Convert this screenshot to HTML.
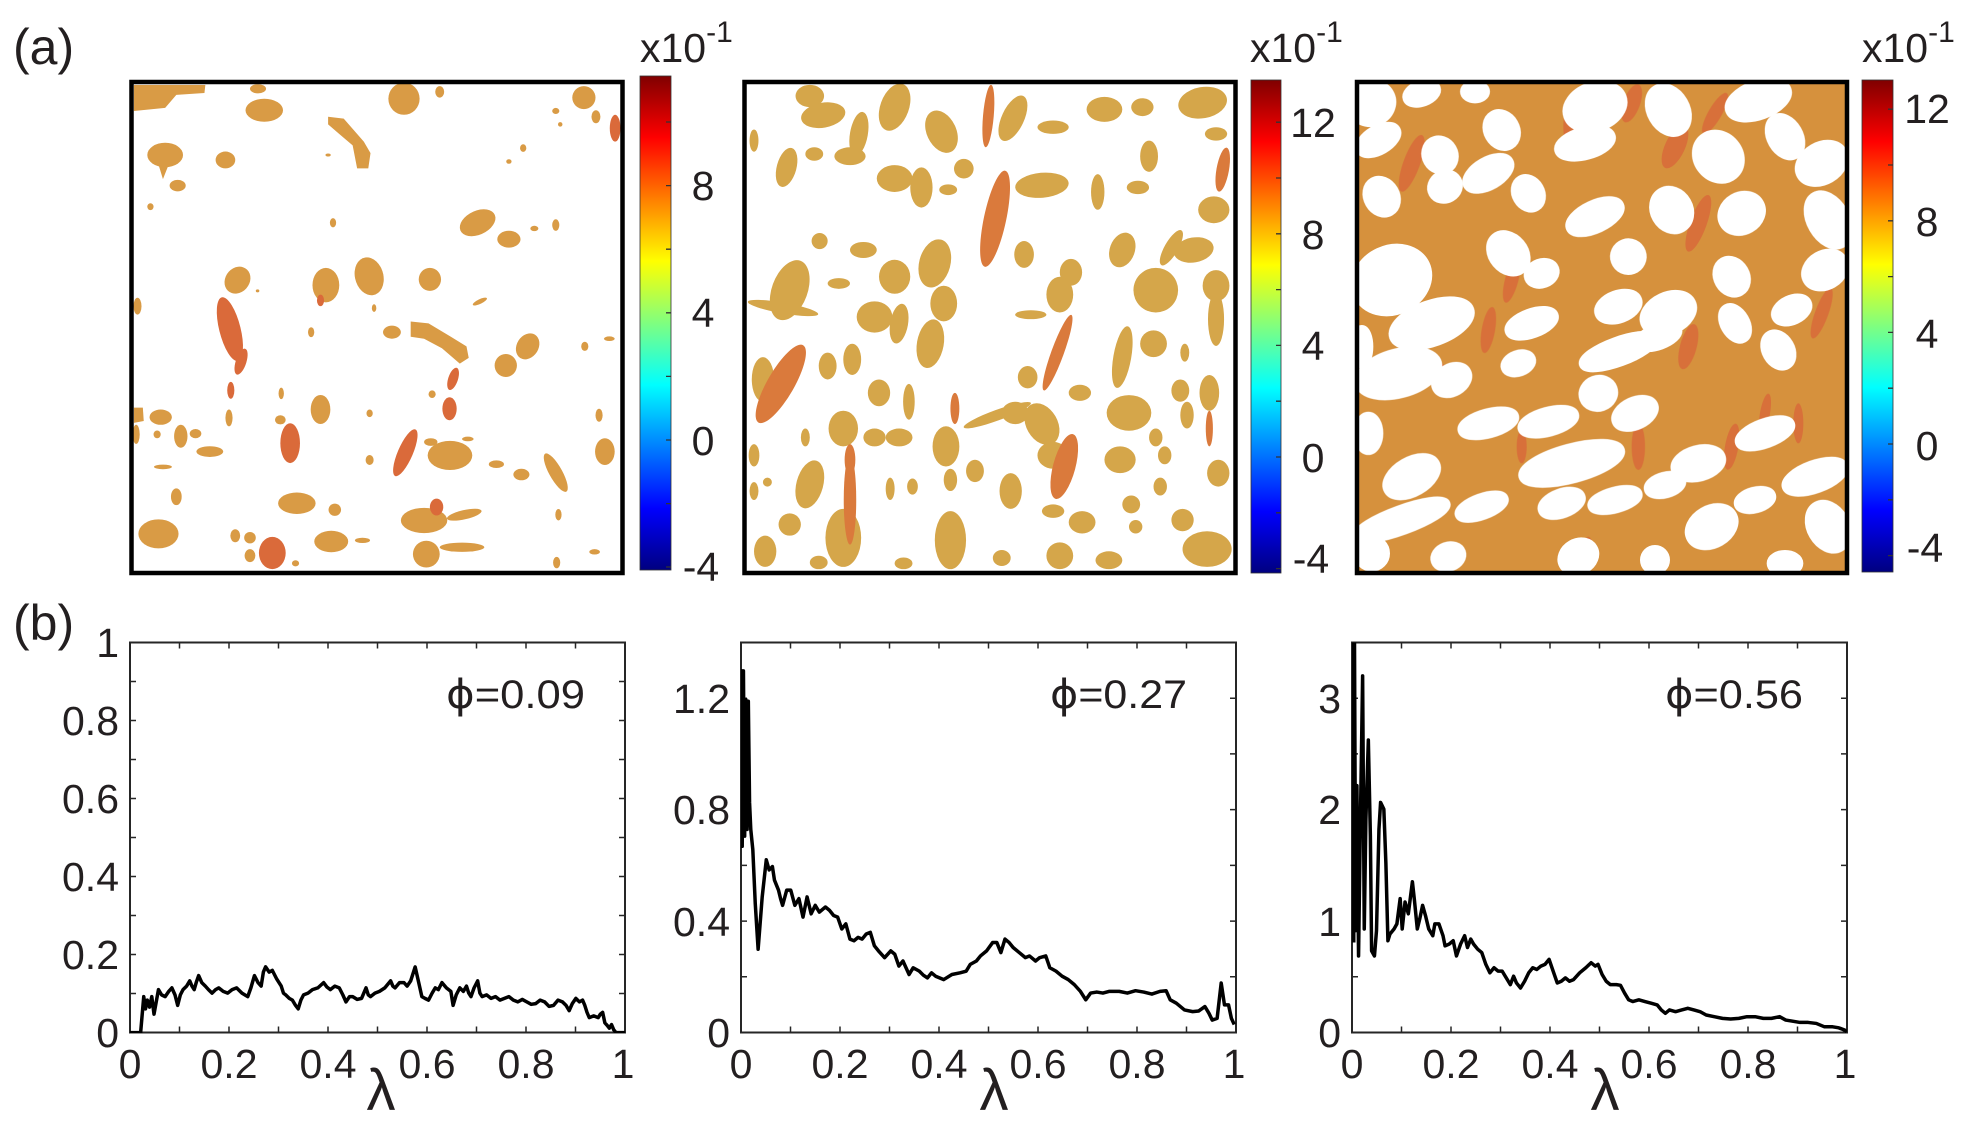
<!DOCTYPE html>
<html><head><meta charset="utf-8"><style>
html,body{margin:0;padding:0;background:#fff}
svg{display:block}
text{font-family:"Liberation Sans","DejaVu Sans",sans-serif;fill:#231f20}
</style></head><body>
<svg id="fig" width="1977" height="1129" viewBox="0 0 1977 1129" xmlns="http://www.w3.org/2000/svg">
<defs>
<linearGradient id="jet" x1="0" y1="0" x2="0" y2="1">
<stop offset="0" stop-color="#800000"/><stop offset="0.125" stop-color="#ff0000"/><stop offset="0.375" stop-color="#ffff00"/><stop offset="0.625" stop-color="#00ffff"/><stop offset="0.875" stop-color="#0000ff"/><stop offset="1" stop-color="#000080"/>
</linearGradient>
<clipPath id="c1"><rect x="131.5" y="82" width="491" height="491"/></clipPath>
<clipPath id="c2"><rect x="744.5" y="82" width="491" height="491"/></clipPath>
<clipPath id="c3"><rect x="1357" y="82" width="490" height="491"/></clipPath>
<clipPath id="pc1"><rect x="130" y="630" width="495" height="403"/></clipPath>
<clipPath id="pc2"><rect x="741" y="630" width="495" height="403"/></clipPath>
<clipPath id="pc3"><rect x="1352" y="642.5" width="495" height="391"/></clipPath>
</defs>
<rect width="1977" height="1129" fill="#fff"/>
<text x="13" y="64" font-size="50">(a)</text>
<text x="13" y="640" font-size="50">(b)</text>

<g clip-path="url(#c1)"><g transform="scale(0.4464 0.3827)">
<g id="p1o" fill="#d99b45">
<polygon points="300,222 460,222 458,243 395,248 370,282 300,290"/>
<polygon points="735,305 770,310 815,370 830,400 825,440 800,440 790,380 760,350 735,325"/>
<polygon points="355,430 378,430 365,468"/>
<polygon points="920,840 960,845 1010,880 1045,905 1050,935 1030,950 990,910 950,885 920,880"/>
<polygon points="300,1065 320,1065 322,1100 300,1105"/>
</g>
<g id="p1r" fill="#da6a3a"></g>
</g></g>

<g clip-path="url(#c2)"><g transform="translate(600 0) scale(0.4464)">
<g id="p2o" fill="#d5a64a"></g>
<g id="p2r" fill="#da7a3c"></g>
</g></g>

<g clip-path="url(#c3)">
<rect x="1357" y="82" width="490" height="491" fill="#d6913d"/>
<g transform="translate(1355 80) scale(0.33333)">
<g id="p3r" fill="#d9623a" opacity="0.7"></g>
<g id="p3w" fill="#fff" stroke="#fff" stroke-width="30"></g>
</g>
</g>

<g fill="none" stroke="#000" stroke-width="4.5">
<rect x="131.5" y="82" width="491" height="491"/>
<rect x="744.5" y="82" width="491" height="491"/>
<rect x="1357" y="82" width="490" height="491"/>
</g>

<rect x="640" y="76" width="31" height="494" fill="url(#jet)" stroke="#333" stroke-width="0.8"/>
<rect x="1251" y="80" width="30" height="493" fill="url(#jet)" stroke="#333" stroke-width="0.8"/>
<rect x="1862" y="80" width="31" height="492" fill="url(#jet)" stroke="#333" stroke-width="0.8"/>
<g stroke="#333" stroke-width="1.3">
<path d="M666,567h5M666,503.6h5M666,440h5M666,376.4h5M666,312.8h5M666,249.2h5M666,185.6h5M666,122h5"/>
<path d="M1276,568.6h5M1276,512.8h5M1276,457h5M1276,401.2h5M1276,345.4h5M1276,289.6h5M1276,233.8h5M1276,178h5M1276,122.2h5"/>
<path d="M1888,555.6h5M1888,499.8h5M1888,444h5M1888,388.2h5M1888,332.4h5M1888,276.6h5M1888,220.8h5M1888,165h5M1888,109.2h5"/>
</g>
<g font-size="41" text-anchor="middle">
<text x="703" y="200">8</text><text x="703" y="327">4</text><text x="703" y="455">0</text><text x="701" y="581">-4</text>
<text x="1313" y="137">12</text><text x="1313" y="249">8</text><text x="1313" y="360">4</text><text x="1313" y="472">0</text><text x="1311" y="573">-4</text>
<text x="1927" y="123">12</text><text x="1927" y="236">8</text><text x="1927" y="348">4</text><text x="1927" y="460">0</text><text x="1925" y="562">-4</text>
</g>
<g font-size="41">
<text x="640" y="62">x10<tspan font-size="30" dy="-20">-1</tspan></text>
<text x="1250" y="62">x10<tspan font-size="30" dy="-20">-1</tspan></text>
<text x="1862" y="62">x10<tspan font-size="30" dy="-20">-1</tspan></text>
</g>

<g fill="none" stroke="#262626" stroke-width="2">
<rect x="130" y="642.5" width="495" height="390"/>
<rect x="741" y="642.5" width="495" height="390"/>
<rect x="1352" y="642.5" width="495" height="390"/>
</g>
<g stroke="#262626" stroke-width="1.5">
<path id="xt1" d="M179.5,1032.5v-6M229,1032.5v-6M278.5,1032.5v-6M328,1032.5v-6M377.5,1032.5v-6M427,1032.5v-6M476.5,1032.5v-6M526,1032.5v-6M575.5,1032.5v-6M179.5,642.5v6M229,642.5v6M278.5,642.5v6M328,642.5v6M377.5,642.5v6M427,642.5v6M476.5,642.5v6M526,642.5v6M575.5,642.5v6"/>
<use href="#xt1" transform="translate(611 0)"/>
<use href="#xt1" transform="translate(1222 0)"/>
<path d="M130,993.5h6M130,954.5h6M130,915.5h6M130,876.5h6M130,837.5h6M130,798.5h6M130,759.5h6M130,720.5h6M130,681.5h6M625,993.5h-6M625,954.5h-6M625,915.5h-6M625,876.5h-6M625,837.5h-6M625,798.5h-6M625,759.5h-6M625,720.5h-6M625,681.5h-6"/>
<path id="yt2" d="M741,976.8h6M741,921.1h6M741,865.4h6M741,809.6h6M741,753.9h6M741,698.2h6M1236,976.8h-6M1236,921.1h-6M1236,865.4h-6M1236,809.6h-6M1236,753.9h-6M1236,698.2h-6"/>
<use href="#yt2" transform="translate(611 0)"/>
</g>

<g font-size="41" text-anchor="end">
<text x="119" y="657">1</text><text x="119" y="735">0.8</text><text x="119" y="813">0.6</text><text x="119" y="891">0.4</text><text x="119" y="969">0.2</text><text x="119" y="1047">0</text>
<text x="730" y="713">1.2</text><text x="730" y="824">0.8</text><text x="730" y="936">0.4</text><text x="730" y="1047">0</text>
<text x="1341" y="713">3</text><text x="1341" y="824">2</text><text x="1341" y="936">1</text><text x="1341" y="1047">0</text>
</g>
<g font-size="41" text-anchor="middle">
<text x="130" y="1078">0</text><text x="229" y="1078">0.2</text><text x="328" y="1078">0.4</text><text x="427" y="1078">0.6</text><text x="526" y="1078">0.8</text><text x="623" y="1078">1</text>
<text x="741" y="1078">0</text><text x="840" y="1078">0.2</text><text x="939" y="1078">0.4</text><text x="1038" y="1078">0.6</text><text x="1137" y="1078">0.8</text><text x="1234" y="1078">1</text>
<text x="1352" y="1078">0</text><text x="1451" y="1078">0.2</text><text x="1550" y="1078">0.4</text><text x="1649" y="1078">0.6</text><text x="1748" y="1078">0.8</text><text x="1845" y="1078">1</text>
</g>
<g font-size="58" text-anchor="middle">
<text x="381" y="1110">λ</text><text x="994" y="1110">λ</text><text x="1605" y="1110">λ</text>
</g>
<g font-size="40">
<text x="446" y="708" textLength="139" lengthAdjust="spacingAndGlyphs"><tspan font-family="DejaVu Sans">ϕ</tspan>=0.09</text>
<text x="1050" y="708" textLength="137" lengthAdjust="spacingAndGlyphs"><tspan font-family="DejaVu Sans">ϕ</tspan>=0.27</text>
<text x="1665" y="708" textLength="138" lengthAdjust="spacingAndGlyphs"><tspan font-family="DejaVu Sans">ϕ</tspan>=0.56</text>
</g>

<g fill="none" stroke="#000" stroke-width="3.5" stroke-linejoin="round">
<g clip-path="url(#pc1)">
<polyline vector-effect="non-scaling-stroke" transform="translate(0 580) scale(0.4464 0.3501)" points="290,1293 315,1293 322,1190 326,1225 330,1200 335,1220 340,1190 345,1240 350,1205 355,1170 362,1185 370,1190 378,1175 385,1165 392,1185 398,1215 404,1185 410,1170 418,1160 425,1145 430,1160 435,1170 440,1148 445,1130 452,1150 460,1160 467,1170 475,1180 483,1170 490,1165 500,1175 510,1180 520,1170 530,1165 542,1180 555,1190 562,1165 570,1130 578,1150 585,1160 590,1120 595,1105 603,1120 610,1115 620,1140 630,1160 635,1180 640,1185 648,1195 655,1200 662,1215 668,1225 674,1200 680,1185 690,1180 700,1170 712,1165 725,1150 732,1162 740,1170 750,1160 760,1165 768,1185 775,1205 783,1190 790,1190 800,1198 810,1195 815,1180 820,1165 825,1185 830,1190 840,1180 850,1175 862,1165 875,1145 880,1160 885,1165 895,1150 905,1150 912,1160 920,1145 925,1125 930,1105 938,1150 945,1190 952,1195 960,1200 968,1180 975,1165 982,1170 990,1150 1000,1165 1010,1175 1015,1215 1022,1185 1030,1165 1038,1175 1045,1160 1050,1180 1055,1190 1062,1165 1070,1145 1075,1180 1080,1190 1090,1185 1100,1195 1110,1190 1120,1200 1130,1195 1140,1190 1150,1200 1160,1205 1170,1198 1180,1205 1190,1212 1200,1210 1210,1200 1220,1205 1230,1218 1240,1215 1250,1200 1260,1205 1268,1215 1275,1230 1282,1210 1290,1195 1298,1205 1305,1200 1310,1215 1315,1235 1320,1250 1330,1245 1340,1250 1345,1240 1350,1235 1355,1265 1360,1272 1365,1280 1370,1270 1375,1285 1380,1293 1400,1293"/>
</g>
<g clip-path="url(#pc2)">
<polyline vector-effect="non-scaling-stroke" transform="translate(650 600) scale(0.408 0.3374)" points="223,205 226,730 229,210 232,700 235,295 238,680 241,300 244,600 247,680 252,740 258,900 265,1035 275,880 285,770 292,800 300,790 305,830 315,860 320,885 325,905 335,860 345,860 355,905 365,885 375,940 385,880 395,930 405,905 415,925 430,910 440,920 450,935 460,940 470,975 480,960 490,1005 500,1010 510,1000 520,1005 530,990 540,985 550,1025 560,1040 575,1060 590,1040 600,1050 610,1085 620,1070 635,1110 645,1090 660,1100 670,1112 680,1120 690,1105 700,1115 720,1125 740,1110 760,1105 775,1100 785,1080 800,1070 810,1055 825,1040 840,1015 850,1015 860,1045 870,1005 880,1015 890,1030 905,1045 920,1060 930,1055 945,1070 955,1060 970,1055 980,1090 995,1100 1010,1115 1025,1125 1040,1140 1055,1160 1068,1185 1080,1165 1095,1162 1110,1165 1125,1160 1150,1160 1170,1165 1190,1158 1210,1162 1230,1168 1250,1160 1265,1158 1275,1185 1290,1195 1310,1215 1330,1220 1345,1218 1360,1205 1370,1225 1378,1245 1390,1240 1400,1135 1408,1200 1418,1200 1425,1240 1432,1258"/>
</g>
<g clip-path="url(#pc3)">
<rect x="1352" y="642.5" width="3.5" height="300" fill="#000" stroke="none"/>
<polyline vector-effect="non-scaling-stroke" transform="translate(1290 600) scale(0.408 0.3374)" points="150,1010 152,100 155,1000 158,100 161,980 164,550 168,1055 172,700 178,225 182,975 186,650 192,415 197,700 200,1040 207,1055 212,980 218,680 222,600 230,620 235,780 240,1010 245,990 255,975 262,960 270,885 275,975 282,895 290,930 300,835 305,890 312,975 318,945 325,905 332,935 340,975 350,995 355,960 365,960 375,995 380,1025 390,1020 400,1010 408,1055 418,1020 428,995 435,1030 443,1005 450,1020 460,1035 470,1045 480,1080 490,1105 500,1090 510,1100 520,1100 530,1120 540,1140 548,1115 555,1135 565,1150 575,1130 585,1105 595,1090 605,1095 615,1085 625,1080 635,1065 645,1100 655,1135 665,1130 675,1120 685,1130 695,1125 710,1105 725,1090 738,1075 748,1085 755,1080 765,1110 775,1130 785,1140 800,1140 810,1142 820,1165 830,1185 840,1190 855,1185 870,1190 885,1195 900,1200 910,1215 920,1225 930,1215 945,1220 960,1215 975,1210 990,1215 1005,1220 1020,1230 1040,1235 1060,1240 1080,1242 1100,1240 1120,1235 1140,1235 1160,1240 1180,1240 1200,1235 1215,1245 1230,1248 1250,1252 1270,1252 1290,1255 1310,1265 1330,1265 1345,1268 1360,1275 1365,1280"/>
</g>
</g>
</svg>
<script>
(function(){
var NS="http://www.w3.org/2000/svg";
function add(id,s){var g=document.getElementById(id);var a=s.trim().split(/\s*;\s*/);
for(var i=0;i<a.length;i++){if(!a[i])continue;var v=a[i].split(",").map(Number);
var e=document.createElementNS(NS,"ellipse");e.setAttribute("cx",v[0]);e.setAttribute("cy",v[1]);e.setAttribute("rx",v[2]);e.setAttribute("ry",v[3]);
if(v.length>4&&v[4])e.setAttribute("transform","rotate("+v[4]+" "+v[0]+" "+v[1]+")");g.appendChild(e);}}
add("p1o","592,288,42,30;578,232,18,12;905,258,35,42;985,240,10,15;1308,255,26,30;1335,305,10,17;370,405,40,32;398,485,18,15;505,418,22,22;1245,290,8,8;1255,325,5,6;1172,387,7,10;1140,422,6,6;735,405,6,4;337,540,7,9;1070,582,44,30,-35;1140,625,26,22;1197,597,9,7;1245,588,8,15;746,582,7,12;532,732,28,36,20;730,745,30,45;827,722,32,50,-10;963,730,25,30;878,868,20,17;1133,955,25,30;1182,905,25,35,20;1310,905,8,12;1365,885,12,6;1075,788,18,6,-30;697,868,7,13;630,1028,6,15;838,805,5,10;718,1070,22,38;968,1030,8,10;360,1090,25,20;305,1135,8,25;405,1140,15,30;438,1133,13,12;352,1135,8,10;513,1092,8,22;628,1097,12,12;828,1080,7,10;470,1180,30,14;1008,1190,50,38;965,1155,15,10;1048,1147,13,6;828,1202,9,13;1112,1213,17,10;1168,1240,18,15;1245,1235,15,55,-25;1355,1180,22,35;1342,1085,8,17;365,1220,20,6;395,1298,12,22;355,1395,45,38;665,1315,42,28;750,1332,14,16;950,1360,52,33;1040,1345,40,12,-15;527,1400,11,17;560,1405,13,15;560,1452,12,17;742,1415,38,28;812,1412,17,7;955,1448,30,35;1035,1430,50,12;662,1472,8,8;1247,1470,8,15;1332,1442,12,7;1251,1345,7,15;308,800,9,22;577,760,4,4");
add("p1r","1378,335,12,35;718,785,8,15;515,860,24,85,-12;540,945,12,35,15;517,1020,8,22;1015,990,11,30,15;1007,1068,16,30;650,1158,22,52;908,1183,17,65,20;978,1325,15,22;610,1445,30,42");
add("p2o","470,215,32,25;660,240,32,55,20;765,295,33,50,-25;580,300,20,50,10;500,258,50,28,-10;925,265,25,55,25;1015,285,35,15;1130,245,40,28;1215,240,25,20;1350,230,55,35,-10;1380,300,25,15;1230,350,20,35;345,315,10,25;418,375,22,45,15;480,345,20,15;560,350,35,20;660,400,40,30;720,420,25,45;815,378,22,22;780,425,20,12;990,415,60,28,-5;1115,430,15,40;1205,420,25,15;1375,470,35,30;1280,555,15,45,30;1330,560,45,28,-10;1170,560,28,40,20;750,590,35,55,15;660,620,35,38;590,560,30,18;492,540,18,18;950,570,22,30;1055,610,25,30;1245,650,50,50;1380,640,30,35;425,650,40,70,20;410,690,80,12,10;535,635,25,12;615,710,40,35;670,725,20,45,10;770,680,30,40;740,770,30,55,10;965,705,35,10;1030,660,30,40;1170,800,20,70,10;1240,770,30,30;1310,790,10,20;1380,715,18,60;365,850,25,50;510,820,20,30;565,805,20,35;625,880,25,30;692,900,13,40;890,930,80,12,-20;930,925,30,25;990,950,35,50,-30;958,845,22,25;1075,880,25,18;1185,925,50,40;1245,980,15,20;1300,875,20,25;1315,930,15,30;1365,880,22,40;545,960,33,40;460,980,10,20;615,980,25,20;670,980,30,20;775,1000,30,45;1015,1020,35,30;1165,1030,35,30;1265,1020,15,20;1385,1060,25,30;470,1085,30,55,15;545,1205,40,65;370,1235,25,35;375,1080,10,10;425,1175,25,25;680,1262,20,13;650,1095,10,25;785,1210,35,65;785,1075,15,25;840,1055,20,25;920,1100,25,40;1015,1145,25,15;1030,1245,30,30;1080,1170,30,25;1140,1255,30,20;1305,1165,25,25;1360,1230,55,40;1255,1090,15,20;1200,1180,15,15;700,1090,12,18;900,1250,20,18;490,1260,20,15;1190,1130,20,20;345,1020,12,25;345,1100,10,20");
add("p2r","870,260,12,70,5;1395,380,14,50,10;885,490,25,110,12;1025,790,14,90,20;405,860,30,100,30;795,915,10,35;1365,960,8,40;560,1030,12,35;1040,1045,25,75,15;560,1120,14,100");
add("p3r","170,250,25,90,20;470,600,20,70,15;1030,430,25,90,20;960,200,30,70,25;640,140,15,60;1400,700,20,80,20;1000,800,25,70,15;260,900,15,50;500,1100,15,50;700,1420,15,50;1130,1100,20,70,10;1330,1030,15,60;400,750,20,70,10;850,1100,20,70;1230,1000,15,60,10;830,70,25,60,20;1080,100,20,70,30");
add("p3w","50,70,60,55,-30;200,40,45,25,-20;360,35,30,20;440,150,40,50,-30;720,80,85,60,-20;940,90,50,70,-30;1210,60,90,45,-20;1290,170,40,60,-30;70,180,60,30,-30;255,225,40,45,-30;400,280,70,35,-30;690,190,80,35,-15;1090,230,60,70,-40;1400,250,70,50,-30;80,350,40,50,-30;270,320,40,35,-30;520,340,35,45,-30;720,410,80,35,-25;950,390,50,60,-30;1160,400,60,50,-30;1420,420,50,80,-30;110,600,110,90,-25;460,520,45,60,-40;560,580,40,30,-20;820,530,40,40,-20;1130,590,40,50,-30;1410,570,60,45,-30;230,730,120,55,-20;530,730,70,30,-20;790,680,60,35,-20;940,700,75,50,-25;1140,730,30,50,-30;1310,690,50,30,-25;130,880,120,60,-15;290,900,50,35,-30;790,815,110,30,-20;910,770,60,25,-20;1270,810,35,50,-30;490,850,40,25,-20;400,1030,80,30,-15;580,1025,80,30,-15;730,940,45,40,-20;840,1000,60,35,-25;1230,1060,80,30,-20;40,1060,30,50;170,1190,80,45,-30;650,1150,150,45,-15;1030,1150,70,40,-15;1380,1190,90,35,-20;140,1320,140,30,-20;380,1280,70,25,-20;620,1270,60,30,-20;780,1260,70,25,-15;930,1215,50,25,-15;1070,1340,70,50,-30;1200,1260,50,25,-15;1420,1340,50,70,-30;670,1430,50,40,-30;280,1430,40,30,-20;50,1420,40,40;1290,1450,40,25;900,1440,30,30;20,800,20,50");
})();
</script>
</body></html>
